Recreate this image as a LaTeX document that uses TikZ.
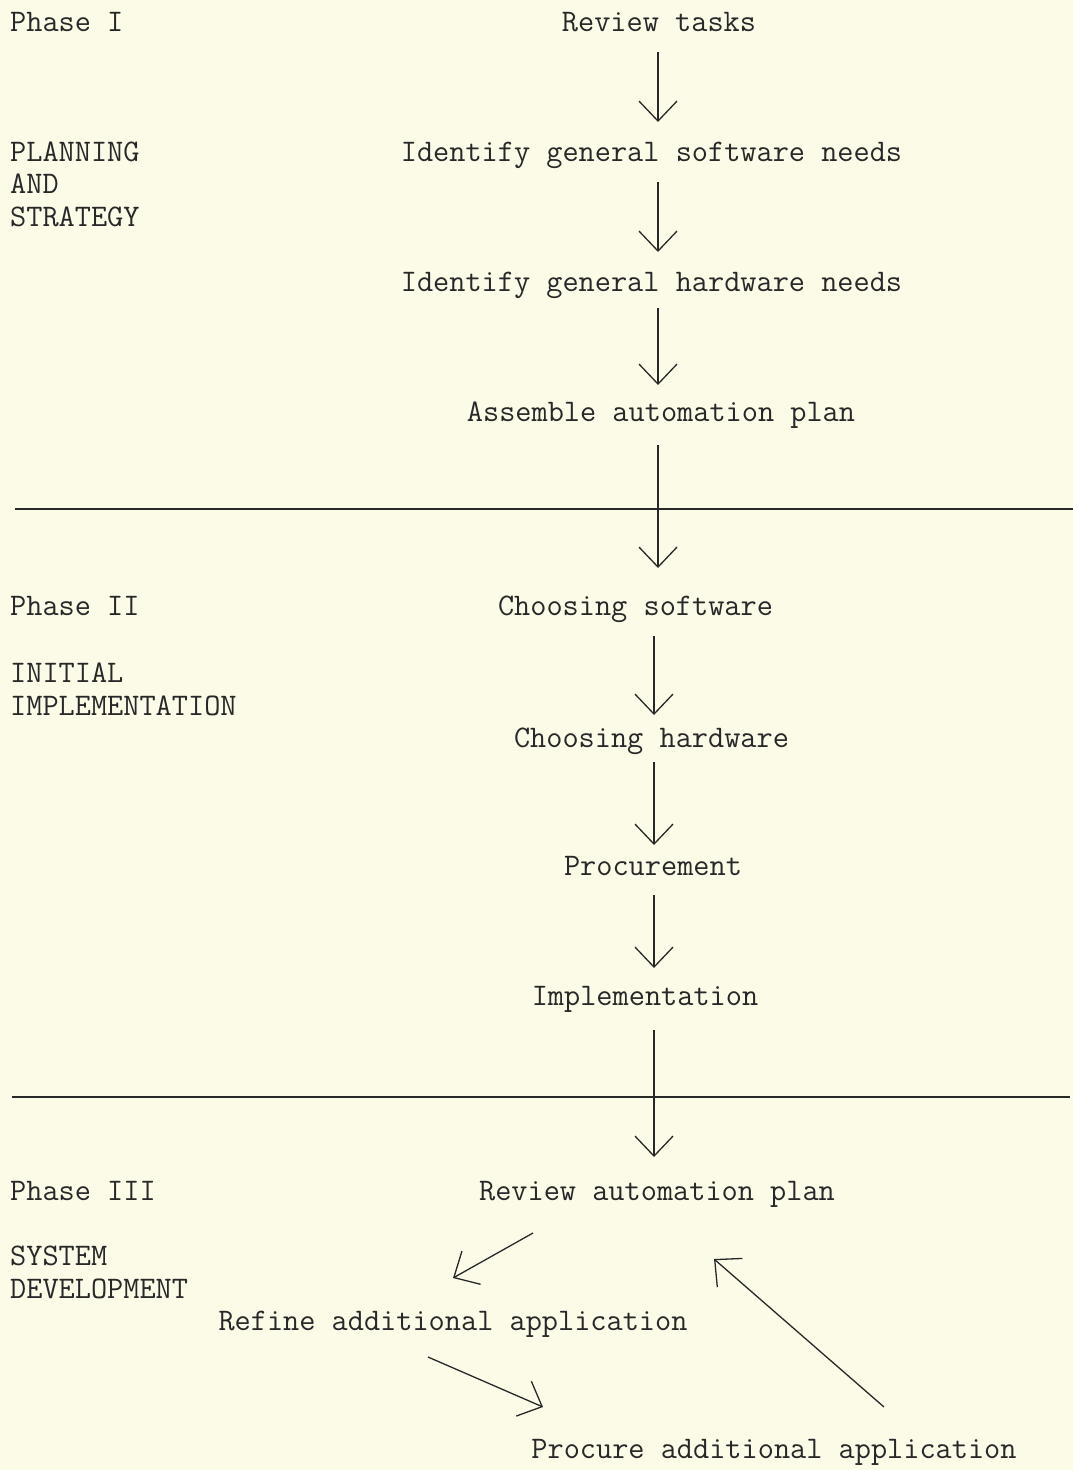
\documentclass[tikz,border=0pt]{standalone}
\usepackage{fontspec}
\usetikzlibrary{arrows.meta,calc}
\definecolor{paper}{RGB}{252,251,232}
\definecolor{ink}{RGB}{40,40,40}
\begin{document}
\begin{tikzpicture}[x=1pt,y=-1pt,
  task/.style={inner sep=0pt,text height=19pt,text depth=0pt,text=ink,
    font=\fontsize{31.4}{32}\selectfont\ttfamily},
  side/.style={inner sep=0pt,anchor=base west,align=left,text=ink,
    font=\fontsize{31.4}{32.5}\selectfont\ttfamily},
  arr/.style={draw=ink,line width=1.3pt,-{Straight Barb[length=20pt,width=38pt,line width=1.3pt]}},
  rule/.style={draw=ink,line width=1.8pt}]
\fill[paper] (0,0) rectangle (1073,1470);
\useasboundingbox (0,0) rectangle (1073,1470);
% side labels (base anchor = baseline of last line)
\node[side] (p1) at (10,31) {Phase I};
\node[side] (l1) at (10,226) {PLANNING\\AND\\STRATEGY};
\node[side] (p2) at (10,615) {Phase II};
\node[side] (l2) at (10,715) {INITIAL\\IMPLEMENTATION};
\node[side] (p3) at (10,1200) {Phase III};
\node[side] (l3) at (10,1298) {SYSTEM\\DEVELOPMENT};
% task nodes
\node[task] (rt)  at (659,22)   {Review tasks};
\node[task] (sw)  at (651.5,152) {Identify general software needs};
\node[task] (hw)  at (651.5,282) {Identify general hardware needs};
\node[task] (ap)  at (661,412)  {Assemble automation plan};
\node[task] (cs)  at (635.5,606) {Choosing software};
\node[task] (ch)  at (651.5,738) {Choosing hardware};
\node[task] (pr)  at (653,866)  {Procurement};
\node[task] (im)  at (645,996)  {Implementation};
\node[task] (rap) at (657,1191) {Review automation plan};
\node[task] (rfa) at (453,1321) {Refine additional application};
\node[task] (paa) at (774,1449) {Procure additional application};
% spines
\coordinate (s1) at (658,0);
\coordinate (s2) at (654,0);
% rules
\draw[rule] (15,509) -- (1073,509);
\draw[rule] (12,1097) -- (1070,1097);
% vertical arrows
\draw[arr] ($(s1 |- rt)+(0,30)$) -- ($(s1 |- sw)+(0,-30)$);
\draw[arr] ($(s1 |- sw)+(0,30)$) -- ($(s1 |- hw)+(0,-30)$);
\draw[arr] ($(s1 |- hw)+(0,26)$) -- ($(s1 |- ap)+(0,-27)$);
\draw[arr] ($(s1 |- ap)+(0,33)$) -- ($(s1 |- cs)+(0,-38)$);
\draw[arr] ($(s2 |- cs)+(0,30)$) -- ($(s2 |- ch)+(0,-23)$);
\draw[arr] ($(s2 |- ch)+(0,24)$) -- ($(s2 |- pr)+(0,-21)$);
\draw[arr] ($(s2 |- pr)+(0,29)$) -- ($(s2 |- im)+(0,-28)$);
\draw[arr] ($(s2 |- im)+(0,34)$) -- ($(s2 |- rap)+(0,-34)$);
% cycle arrows
\draw[arr] ($(rap)+(-124,42)$) -- ($(rfa)+(0,-43)$);
\draw[arr] ($(rfa)+(-25,36)$) -- ($(paa)+(-231,-42)$);
\draw[arr] ($(paa)+(110,-42)$) -- ($(rap)+(57,68)$);
\end{tikzpicture}
\end{document}
